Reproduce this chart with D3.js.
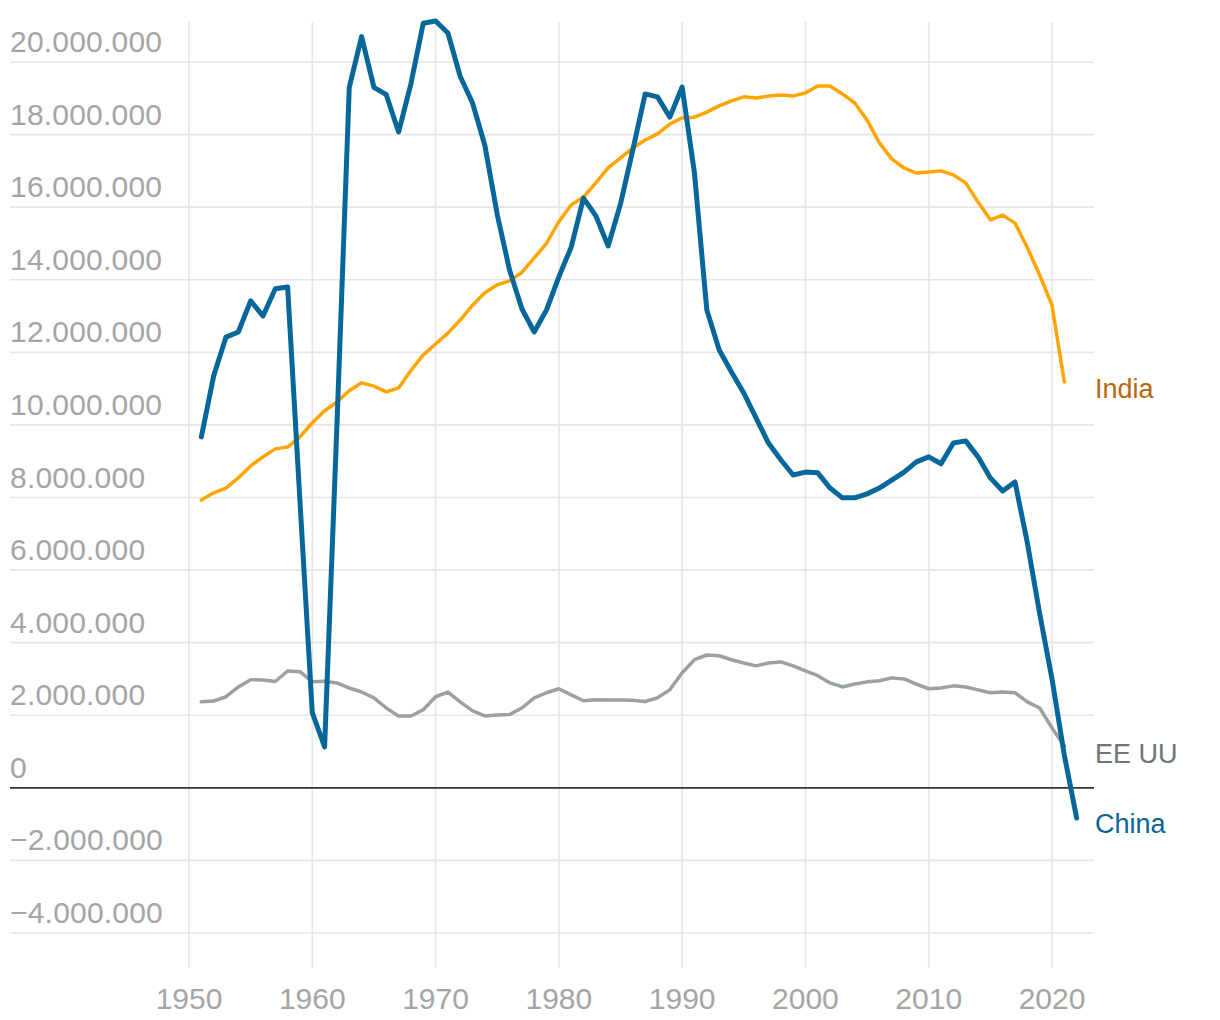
<!DOCTYPE html>
<html>
<head>
<meta charset="utf-8">
<script src="https://cdn.jsdelivr.net/npm/d3@7"></script>
<style>
  html, body { margin: 0; padding: 0; background: #fff; }
  svg { display: block; font-family: "Liberation Sans", Arial, sans-serif; }
</style>
</head>
<body>
<svg id="chart" width="1220" height="1020"></svg>
<script>
const years = d3.range(1951, 2023);

const chinaValues = [
  9.67, 11.35, 12.42, 12.56, 13.42, 13.0, 13.75, 13.8, 7.9, 2.07,
  1.13, 10.0, 19.3, 20.7, 19.3, 19.1, 18.07, 19.4, 21.07, 21.13,
  20.8, 19.6, 18.87, 17.7, 15.8, 14.27, 13.2, 12.56, 13.17, 14.08,
  14.9, 16.25, 15.76, 14.93, 16.09, 17.58, 19.12, 19.04, 18.48, 19.31,
  16.94, 13.17, 12.07, 11.46, 10.88, 10.19, 9.5, 9.04, 8.62, 8.7,
  8.68, 8.26, 7.99, 7.99, 8.1, 8.26, 8.48, 8.7, 8.98, 9.12,
  8.93, 9.5, 9.56, 9.12, 8.54, 8.18, 8.43, 6.75, 4.8, 3.0,
  0.9, -0.83
];

const indiaValues = [
  7.93, 8.13, 8.26, 8.54, 8.87, 9.12, 9.34, 9.39, 9.67, 10.06,
  10.39, 10.63, 10.94, 11.16, 11.07, 10.91, 11.02, 11.5, 11.93, 12.23,
  12.53, 12.89, 13.3, 13.64, 13.86, 13.97, 14.2, 14.6, 15.0, 15.6,
  16.06, 16.28, 16.67, 17.08, 17.36, 17.63, 17.85, 18.02, 18.29, 18.46,
  18.48, 18.62, 18.79, 18.93, 19.04, 19.01, 19.06, 19.09, 19.06, 19.15,
  19.34, 19.34, 19.12, 18.87, 18.4, 17.77, 17.33, 17.08, 16.94, 16.97,
  17.0, 16.89, 16.67, 16.14, 15.65, 15.78, 15.56, 14.88, 14.13, 13.3,
  11.18
];

const usValues = [
  2.37, 2.39, 2.51, 2.78, 2.98, 2.97, 2.93, 3.22, 3.2, 2.92,
  2.94, 2.89, 2.75, 2.64, 2.48, 2.2, 1.98, 1.98, 2.15, 2.51,
  2.64, 2.37, 2.12, 1.98, 2.01, 2.02, 2.2, 2.48, 2.62, 2.73,
  2.56, 2.4, 2.43, 2.42, 2.42, 2.41, 2.38, 2.48, 2.7, 3.17,
  3.53, 3.66, 3.64, 3.53, 3.44, 3.36, 3.44, 3.47, 3.36, 3.22,
  3.09, 2.89, 2.78, 2.86, 2.92, 2.95, 3.03, 3.0, 2.86, 2.73,
  2.75, 2.81, 2.78, 2.7, 2.62, 2.64, 2.62, 2.37, 2.2, 1.65,
  1.15
];

const seriesNames = ["EE UU", "India", "China"];
const seriesColors = ["#9aa1a0", "#ffa400", "#08679a"];
const labelColors = ["#6e7676", "#b8690c", "#0b6496"];
const seriesWidths = [3.5, 3.5, 5];

const yTicks = [-4e6, -2e6, 0, 2e6, 4e6, 6e6, 8e6, 10e6, 12e6, 14e6, 16e6, 18e6, 20e6];
const xTicks = [1950, 1960, 1970, 1980, 1990, 2000, 2010, 2020];

const svg = d3.select("#chart");

const x = d3.scaleLinear().domain([1950, 2020]).range([189, 1052]);
const y = d3.scaleLinear().domain([-4e6, 20e6]).range([933, 62]);

const locale = d3.formatLocale({ decimal: ",", thousands: ".", grouping: [3], currency: ["", "€"], minus: "\u2212" });
const fmt = locale.format(",d");

const gridLeft = 10, gridRight = 1094, gridTop = 22, gridBottom = 968;

// vertical grid
svg.append("g")
  .selectAll("line")
  .data(xTicks)
  .join("line")
  .attr("x1", d => x(d)).attr("x2", d => x(d))
  .attr("y1", gridTop).attr("y2", gridBottom)
  .attr("stroke", "#e6e6e6").attr("stroke-width", 1.6);

// horizontal grid
svg.append("g")
  .selectAll("line")
  .data(yTicks.filter(d => d !== 0))
  .join("line")
  .attr("x1", gridLeft).attr("x2", gridRight)
  .attr("y1", d => y(d)).attr("y2", d => y(d))
  .attr("stroke", "#e6e6e6").attr("stroke-width", 1.6);

// y labels
svg.append("g")
  .selectAll("text")
  .data(yTicks)
  .join("text")
  .attr("x", gridLeft)
  .attr("y", d => y(d) - 10)
  .attr("fill", "#a5a5a5")
  .attr("font-size", 30)
  .attr("letter-spacing", 0.2)
  .text(d => fmt(d));

// x labels
svg.append("g")
  .selectAll("text")
  .data(xTicks)
  .join("text")
  .attr("x", d => x(d))
  .attr("y", 1009)
  .attr("text-anchor", "middle")
  .attr("fill", "#a5a5a5")
  .attr("font-size", 30)
  .text(d => d);

// zero line
svg.append("line")
  .attr("x1", gridLeft).attr("x2", gridRight)
  .attr("y1", y(0)).attr("y2", y(0))
  .attr("stroke", "#333").attr("stroke-width", 1.6);

const allValues = [usValues, indiaValues, chinaValues];
const line = d3.line()
  .x(d => x(d.year))
  .y(d => y(d.value * 1e6));

allValues.forEach((vals, i) => {
  const data = vals.map((v, j) => ({ year: years[j], value: v }));
  svg.append("path")
    .datum(data)
    .attr("d", line)
    .attr("fill", "none")
    .attr("stroke", seriesColors[i])
    .attr("stroke-width", seriesWidths[i])
    .attr("stroke-linejoin", "round")
    .attr("stroke-linecap", "round");
});

// series labels
const labelY = [763, 398, 833];
seriesNames.forEach((name, i) => {
  svg.append("text")
    .attr("x", 1095)
    .attr("y", labelY[i])
    .attr("fill", labelColors[i])
    .attr("font-size", 27)
    .text(name);
});
</script>
</body>
</html>
